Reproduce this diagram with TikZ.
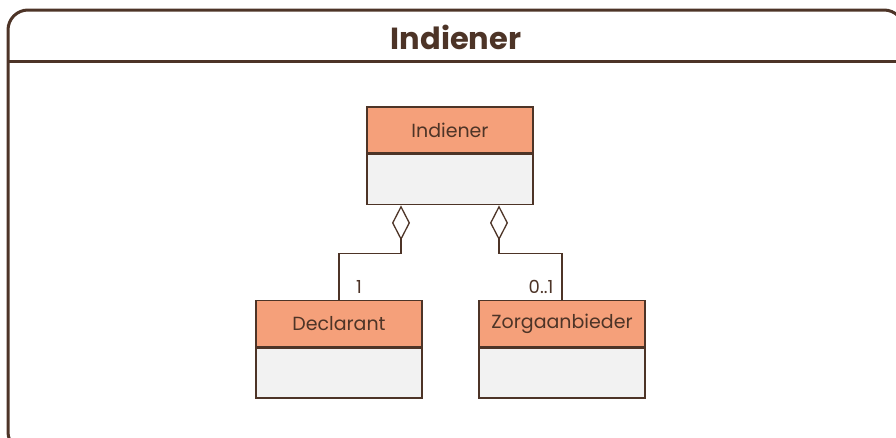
\documentclass[tikz,border=0pt]{standalone}
\usepackage{fontspec}
\setmainfont{Poppins}
\usetikzlibrary{arrows.meta,positioning}
\definecolor{ln}{HTML}{4D3427}
\definecolor{hdrfill}{HTML}{F5A07A}
\definecolor{bodyfill}{HTML}{F2F2F2}
\tikzset{
  x=1pt,y=-1pt,
  hdr/.style={draw=ln,line width=1.6pt,fill=hdrfill,minimum width=166pt,minimum height=46pt,inner sep=0pt,text=ln,font=\fontsize{19}{19}\selectfont},
  bodybox/.style={draw=ln,line width=1.6pt,fill=bodyfill,minimum width=166pt,minimum height=50pt,inner sep=0pt},
  agg/.style={draw=ln,line width=1.3pt,{Diamond[open,length=35pt,width=18pt,line width=1.3pt]}-},
  mult/.style={text=ln,font=\fontsize{18}{18}\selectfont,inner sep=0pt}
}
\begin{document}
\begin{tikzpicture}
\useasboundingbox (0,0) rectangle (896,437);
\clip (0,0) rectangle (896,437);
% frame
\draw[ln,line width=3pt,rounded corners=20pt] (8,452) -- (8,10) -- (904,10) -- (904,452) -- cycle;
\draw[ln,line width=3pt] (8,61) -- (904,61);
\node[text=ln,font=\fontsize{30.5}{30.5}\selectfont\bfseries] (title) at (456,37) {Indiener};
% classes
\node[hdr] (ind) at (450,130) {Indiener};
\node[bodybox,below=0pt of ind] (indb) {};
\node[hdr] (decl) at (339,323.5) {Declarant};
\node[bodybox,below=0pt of decl] (declb) {};
\node[hdr] (zorg) at (562,323.5) {Zorgaanbieder};
\node[bodybox,below=0pt of zorg] (zorgb) {};
% connectors
\draw[agg] ([xshift=-49pt]indb.south) -- ++(0,48) -| (decl.north);
\draw[agg] ([xshift=49pt]indb.south) -- ++(0,48) -| (zorg.north);
\node[mult] (m1) at (359,287) {1};
\node[mult] (m2) at (541,287) {0..1};
\end{tikzpicture}
\end{document}
